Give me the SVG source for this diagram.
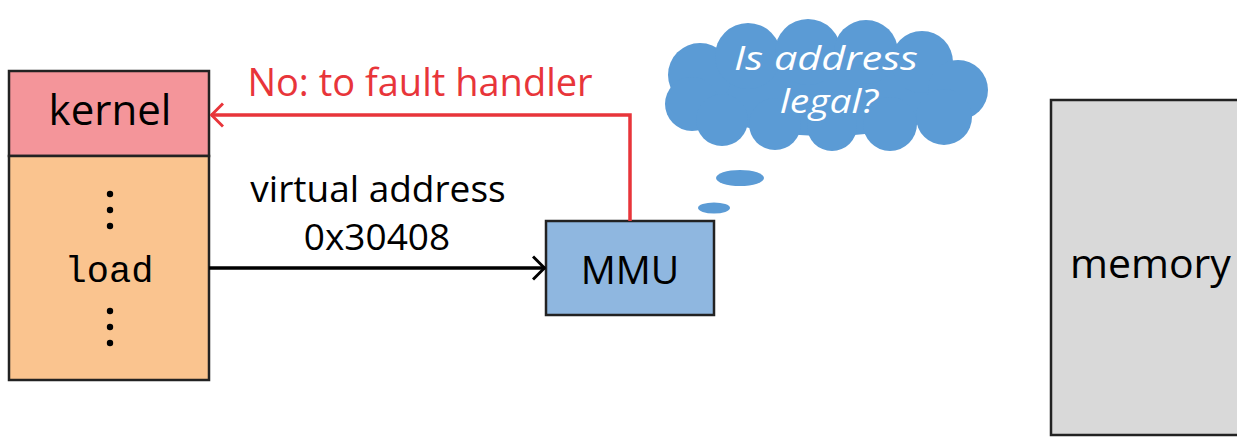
<svg xmlns="http://www.w3.org/2000/svg" width="1237" height="438" viewBox="0 0 1237 438">
<style>
.t{font-family:"Open Sans","Liberation Sans",sans-serif;fill:#000}
.box{stroke:#222;stroke-width:2.5}
.cl{fill:#5B9BD5}
</style>
<defs>
<marker id="ab" viewBox="0 0 14 26" refX="13" refY="13" markerWidth="14" markerHeight="26" markerUnits="userSpaceOnUse" orient="auto"><path d="M1,1.5 L12.5,13 L1,24.5" fill="none" stroke="#000" stroke-width="3"/></marker>
<marker id="ar" viewBox="0 0 14 26" refX="13" refY="13" markerWidth="14" markerHeight="26" markerUnits="userSpaceOnUse" orient="auto"><path d="M1,1.5 L12.5,13 L1,24.5" fill="none" stroke="#E8353A" stroke-width="3"/></marker>
</defs>
<rect width="1237" height="438" fill="#fff"/>
<g id="process">
<rect class="box" x="9" y="71" width="200" height="85" fill="#F4959A"/>
<rect class="box" x="9" y="156" width="200" height="224" fill="#FAC48F"/>
<text class="t" x="110" y="125" font-size="42" text-anchor="middle">kernel</text>
<g fill="#000"><circle cx="110" cy="194" r="3.2"/><circle cx="110" cy="210" r="3.2"/><circle cx="110" cy="226" r="3.2"/><circle cx="110" cy="311" r="3.2"/><circle cx="110" cy="327" r="3.2"/><circle cx="110" cy="343" r="3.2"/></g>
<text x="109" y="282" font-family="Liberation Mono,monospace" font-size="37" text-anchor="middle">load</text>
</g>
<g id="mmu">
<rect class="box" x="546" y="221" width="168" height="94" fill="#8FB7E0"/>
<text class="t" x="630" y="284" font-size="39" text-anchor="middle">MMU</text>
</g>
<g id="memory">
<rect class="box" x="1051" y="100" width="200" height="335" fill="#D9D9D9"/>
<text class="t" x="1070" y="278" font-size="41">memory</text>
</g>
<g id="thought">
<g class="cl">
<ellipse cx="827" cy="88" rx="140" ry="48"/>
<circle cx="700" cy="75" r="32"/><circle cx="692" cy="104" r="27"/><circle cx="748" cy="56" r="33"/><circle cx="808" cy="52" r="33"/><circle cx="866" cy="52" r="32"/><circle cx="922" cy="62" r="31"/><circle cx="958" cy="90" r="30"/><circle cx="944" cy="117" r="28"/><circle cx="890" cy="124" r="27"/><circle cx="832" cy="126" r="25"/><circle cx="775" cy="124" r="26"/><circle cx="722" cy="120" r="26"/>
<ellipse cx="740" cy="178" rx="24" ry="8"/>
<ellipse cx="714" cy="208" rx="16" ry="5.5"/>
</g>
<text class="t" x="826" y="70" font-size="33" font-style="italic" text-anchor="middle" textLength="184" lengthAdjust="spacingAndGlyphs" style="fill:#fff">Is address</text>
<text class="t" x="829" y="113" font-size="33" font-style="italic" text-anchor="middle" textLength="98" lengthAdjust="spacingAndGlyphs" style="fill:#fff">legal?</text>
</g>
<g id="connectors">
<line x1="209" y1="268" x2="545" y2="268" stroke="#000" stroke-width="3.5" marker-end="url(#ab)"/>
<polyline points="630,221 630,115 211,115" fill="none" stroke="#E8353A" stroke-width="3.5" marker-end="url(#ar)"/>
<text class="t" x="378" y="202" font-size="37" text-anchor="middle">virtual address</text>
<text class="t" x="377" y="250" font-size="37" text-anchor="middle">0x30408</text>
<text class="t" x="420" y="96" font-size="38" text-anchor="middle" style="fill:#E8353A">No: to fault handler</text>
</g>
</svg>
